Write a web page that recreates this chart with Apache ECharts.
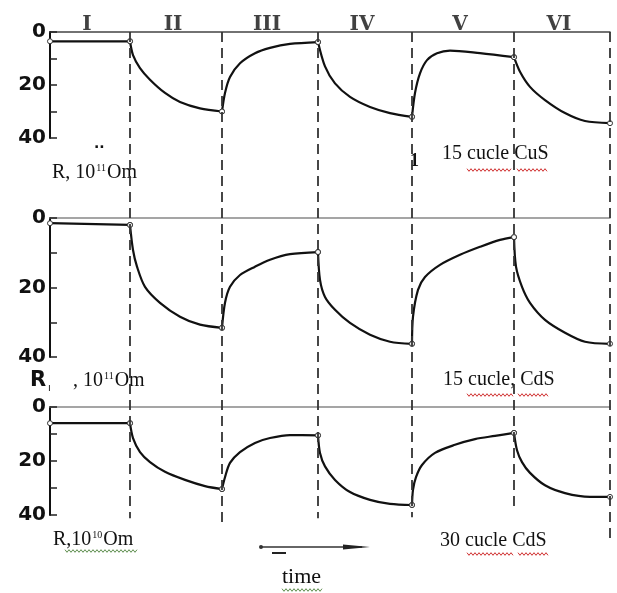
<!DOCTYPE html>
<html>
<head>
<meta charset="utf-8">
<script src="https://cdn.jsdelivr.net/npm/echarts@6/dist/echarts.min.js"></script>
<style>
html,body{margin:0;padding:0;background:#fff;}
#chart{width:617px;height:593px;}
</style>
</head>
<body>
<div id="chart"></div>
<script>
// ---- data ----
const stageNames = ['I', 'II', 'III', 'IV', 'V', 'VI'];
const stageBounds = [0, 8, 17.2, 26.8, 36.2, 46.4, 56];   // time (arb. units)
const yLabelValues = [0, 20, 40];

// Panel 1: 15 cycles CuS, R in 10^11 Ohm
const cusTime = [0, 8, 8.3, 9, 10, 11.5, 13, 15, 17.2, 17.5, 18, 19, 20.5, 22, 24, 26.8,
  27.5, 28.5, 30, 32, 34, 36.2, 36.5, 37, 37.7, 38.7, 40, 43, 46.4, 47, 48, 49.5, 51.5, 53.5, 56];
const cusR = [3.5, 3.5, 8.7, 13.6, 18, 23, 26.4, 28.8, 30, 23, 17, 11.8, 8, 6, 4.5, 3.8,
  13, 19.4, 24.5, 28.3, 30.6, 32, 23, 15.6, 10.6, 8, 7, 8, 9.5, 15, 20.7, 25.7, 30.6, 33.6, 34.4];

// Panel 2: 15 cycles CdS, R in 10^11 Ohm
const cds15Time = [0, 8, 8.3, 8.7, 9.5, 11, 13, 15, 17.2, 17.5, 18, 19, 20.5, 22, 24, 26.8,
  27, 27.5, 28.5, 30, 32, 34, 36.2, 36.3, 36.8, 37.5, 39, 41, 43, 45, 46.4,
  46.6, 47.2, 48, 49.5, 51.5, 53.5, 56];
const cds15R = [1.5, 2, 9.2, 14, 19.8, 24.4, 28.4, 30.7, 31.6, 24.4, 19.8, 16.4, 14, 12, 10.4, 9.8,
  17.8, 22.7, 26.4, 30.2, 33.6, 35.6, 36.2, 28.4, 20.7, 17, 13.5, 10.6, 8.3, 6.3, 5.5,
  14, 19.8, 24.4, 29.3, 33, 35.6, 36.2];

// Panel 3: 30 cycles CdS, R in 10^10 Ohm
const cds30Time = [0, 8, 8.3, 9, 10, 11.5, 13.5, 15.5, 17.2, 17.5, 18, 19, 20.5, 22, 24, 26.8,
  27, 27.5, 28.5, 30, 32, 34, 36.2, 36.3, 36.6, 37.2, 38.5, 40.5, 42.5, 44.5, 46.4,
  46.7, 47.2, 48, 49.5, 51.5, 54, 56];
const cds30R = [6, 6, 11.5, 16.7, 20.4, 24, 27, 29.3, 30.4, 26, 20.7, 16.7, 13.3, 11.5, 10.4, 10.5,
  17, 22, 27, 31.5, 34.4, 35.9, 36.3, 30.7, 26, 21.5, 17, 14, 11.9, 10.7, 9.6,
  16, 20.4, 24.4, 29, 31.9, 33.3, 33.3];

const panels = [[cusTime, cusR], [cds15Time, cds15R], [cds30Time, cds30R]];

// ---- layout ----
const gridDefs = [
  {left: 50, right: 7, top: 32, height: 106},
  {left: 50, right: 7, top: 218, height: 139},
  {left: 50, right: 7, top: 407, height: 108},
  {left: 50, right: 7, top: 32, height: 508}   // overlay for dashed stage lines
];
const topLineColors = ['#444', '#888', '#888'];
const dashEnd = [0.957, 0.965, 0.957, 0.955, 0.94, 1.0];

const xAxes = [], yAxes = [], series = [];
for (let i = 0; i < 3; i++) {
  xAxes.push({
    gridIndex: i, type: 'value', min: stageBounds[0], max: stageBounds[stageBounds.length - 1],
    position: 'top',
    axisLine: {show: true, onZero: false, lineStyle: {color: topLineColors[i], width: 1.5}},
    axisTick: {show: false}, axisLabel: {show: false}, splitLine: {show: false}
  });
  yAxes.push({
    gridIndex: i, type: 'value', inverse: true, min: 0, max: 40, interval: 10,
    axisLine: {show: true, lineStyle: {color: '#111', width: 2}},
    axisTick: {show: true, inside: true, length: 7, lineStyle: {color: '#222', width: 1.5}},
    axisLabel: {
      margin: 4, color: '#111', fontFamily: 'DejaVu Sans', fontWeight: 'bold', fontSize: 20,
      formatter: v => (yLabelValues.indexOf(v) >= 0 ? String(v) : '')
    },
    splitLine: {show: false}
  });
  const [ts, rs] = panels[i];
  for (let k = 0; k < stageBounds.length - 1; k++) {
    const seg = [];
    for (let j = 0; j < ts.length; j++) {
      if (ts[j] >= stageBounds[k] && ts[j] <= stageBounds[k + 1]) seg.push([ts[j], rs[j]]);
    }
    const last = seg.length - 1;
    series.push({
      type: 'line', xAxisIndex: i, yAxisIndex: i, data: seg,
      smooth: 0.3,
      symbol: (v, p) => (p.dataIndex === 0 || p.dataIndex === last) ? 'circle' : 'none',
      symbolSize: 5, showSymbol: true,
      itemStyle: {color: '#fff', borderColor: '#333', borderWidth: 1},
      lineStyle: {color: '#111', width: 2.2},
      z: 3, silent: true
    });
  }
}
// overlay axes
xAxes.push({gridIndex: 3, type: 'value', min: stageBounds[0], max: stageBounds[stageBounds.length - 1], show: false});
yAxes.push({gridIndex: 3, type: 'value', min: 0, max: 1, inverse: true, show: false});

// dashed stage boundaries
series.push({
  type: 'line', xAxisIndex: 3, yAxisIndex: 3, data: [], silent: true,
  markLine: {
    silent: true, symbol: 'none', label: {show: false}, animation: false,
    lineStyle: {color: '#333', width: 1.8, type: [10, 6]},
    data: stageBounds.slice(1).map((b, idx) => [{coord: [b, 0]}, {coord: [b, dashEnd[idx]]}])
  }
});
// stage names
series.push({
  type: 'scatter', xAxisIndex: 3, yAxisIndex: 3, symbolSize: 0, silent: true,
  data: stageNames.map((n, k) => ({name: n, value: [(stageBounds[k] + stageBounds[k + 1]) / 2, 0]})),
  label: {
    show: true, position: 'top', distance: 0, offset: [-3, 3], formatter: p => p.name,
    fontFamily: 'DejaVu Serif', fontWeight: 'bold', fontSize: 20, color: '#111'
  }
});

// ---- annotations ----
function wavy(x0, x1, y, color) {
  const pts = [];
  let up = true;
  for (let x = x0; x <= x1; x += 2) { pts.push([x, y + (up ? -1.3 : 1.3)]); up = !up; }
  return {type: 'polyline', shape: {points: pts}, style: {stroke: color, lineWidth: 1, fill: null}, silent: true};
}
const serif = 'Liberation Serif';
const supRich = {
  a: {fontFamily: serif, fontSize: 20, color: '#111'},
  s: {fontFamily: serif, fontSize: 10, color: '#111', padding: [0, 1, 10, 1]}
};
function txt(x, y, text, extra) {
  return Object.assign({
    type: 'text', x: x, y: y, silent: true,
    style: Object.assign({text: text, fontFamily: serif, fontSize: 20, fill: '#111', verticalAlign: 'middle', align: 'left'}, extra || {})
  });
}
const red = '#d03030', green = '#5f8f4f';
const graphics = [
  // panel 1
  txt(52, 173, '{a|R, 10}{s|11}{a|Om}', {rich: supRich}),
  txt(94, 144, '..', {fontFamily: 'DejaVu Sans', fontWeight: 'bold', fontSize: 14}),
  txt(410, 161, '1', {fontWeight: 'bold', fontSize: 18}),
  txt(442, 154, '15 cucle CuS'),
  wavy(467, 512, 170, red), wavy(517, 548, 170, red),
  // panel 2
  txt(30, 381, 'R', {fontFamily: 'DejaVu Sans', fontWeight: 'bold', fontSize: 21}),
  txt(48, 388, 'ı', {fontFamily: 'DejaVu Sans', fontSize: 10}),
  txt(73, 381, '{a|, 10}{s|11}{a|Om}', {rich: supRich}),
  txt(443, 380, '15 cucle, CdS'),
  wavy(467, 513, 395, red), wavy(518, 548, 395, red),
  // panel 3
  txt(53, 540, '{a|R,10}{s|10}{a|Om}', {rich: supRich}),
  wavy(65, 137, 551, green),
  txt(440, 541, '30 cucle CdS'),
  wavy(467, 513, 554, red), wavy(518, 548, 554, red),
  // time arrow
  {type: 'line', shape: {x1: 260, y1: 547, x2: 362, y2: 547}, style: {stroke: '#333', lineWidth: 1.5}, silent: true},
  {type: 'polygon', shape: {points: [[343, 544.5], [370, 547], [343, 549.5]]}, style: {fill: '#222'}, silent: true},
  {type: 'circle', shape: {cx: 261, cy: 547, r: 2}, style: {fill: '#333'}, silent: true},
  {type: 'line', shape: {x1: 272, y1: 553, x2: 286, y2: 553}, style: {stroke: '#222', lineWidth: 2}, silent: true},
  txt(282, 577, 'time', {fontSize: 22}),
  wavy(282, 323, 590, green)
];

const chart = echarts.init(document.getElementById('chart'), null, {renderer: 'canvas'});
chart.setOption({
  animation: false,
  backgroundColor: '#fff',
  grid: gridDefs,
  xAxis: xAxes,
  yAxis: yAxes,
  series: series,
  graphic: graphics
});
</script>
</body>
</html>
